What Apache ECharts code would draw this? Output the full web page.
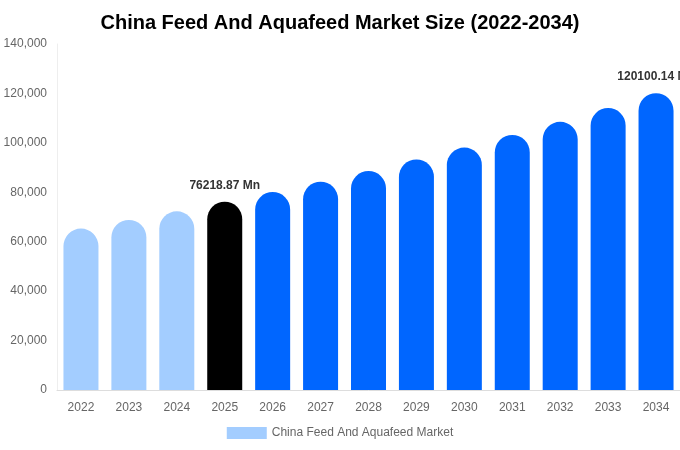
<!DOCTYPE html>
<html>
<head>
<meta charset="utf-8">
<script src="https://cdn.jsdelivr.net/npm/echarts@6/dist/echarts.min.js"></script>
<style>html,body{margin:0;padding:0;background:#fff}#c{width:680px;height:450px}</style>
</head>
<body>
<div id="c"></div>
<script>
const categories = ['2022','2023','2024','2025','2026','2027','2028','2029','2030','2031','2032','2033','2034'];
const values = [65300, 68800, 72300, 76218.87, 80100, 84300, 88600, 93300, 98100, 103200, 108500, 114100, 120100.14];
const barColors = ['#a3cdff','#a3cdff','#a3cdff','#000000','#0066ff','#0066ff','#0066ff','#0066ff','#0066ff','#0066ff','#0066ff','#0066ff','#0066ff'];
const labeledIndex = [3, 12];
const seriesName = 'China Feed And Aquafeed Market';

const chart = echarts.init(document.getElementById('c'));
chart.setOption({
  animation: false,
  title: {
    text: 'China Feed And Aquafeed Market Size (2022-2034)',
    left: 'center', top: 8,
    textStyle: { fontFamily: 'Liberation Sans, Arial', fontSize: 20, fontWeight: 'bold', color: '#000' }
  },
  legend: {
    bottom: 6, left: 'center',
    icon: 'rect',
    itemWidth: 40, itemHeight: 12,
    textStyle: { fontFamily: 'Liberation Sans, Arial', fontSize: 12, color: '#666' },
    data: [{ name: seriesName, itemStyle: { color: '#a3cdff' } }]
  },
  grid: { left: 57, right: 0, top: 44, bottom: 60, containLabel: false },
  xAxis: {
    type: 'category', data: categories,
    axisLine: { lineStyle: { color: '#ddd' } },
    axisTick: { show: false },
    axisLabel: { color: '#666', fontSize: 12, fontFamily: 'Liberation Sans, Arial', margin: 12 }
  },
  yAxis: {
    type: 'value', min: 0, max: 140000, interval: 20000,
    axisLine: { show: true, lineStyle: { color: '#eee' } },
    axisTick: { show: false },
    splitLine: { show: false },
    axisLabel: { color: '#666', fontSize: 12, fontFamily: 'Liberation Sans, Arial', margin: 10,
      formatter: v => v.toLocaleString('en-US') }
  },
  series: [{
    name: seriesName, type: 'bar', barWidth: 35,
    data: values.map((v, i) => ({
      value: v,
      itemStyle: { color: barColors[i], borderRadius: [17.5, 17.5, 0, 0] },
      label: labeledIndex.includes(i) ? {
        show: true, position: 'top', distance: 10,
        formatter: p => p.value + ' Mn',
        color: '#333', fontWeight: 'bold', fontSize: 12, fontFamily: 'Liberation Sans, Arial'
      } : { show: false }
    }))
  }]
});
</script>
</body>
</html>
